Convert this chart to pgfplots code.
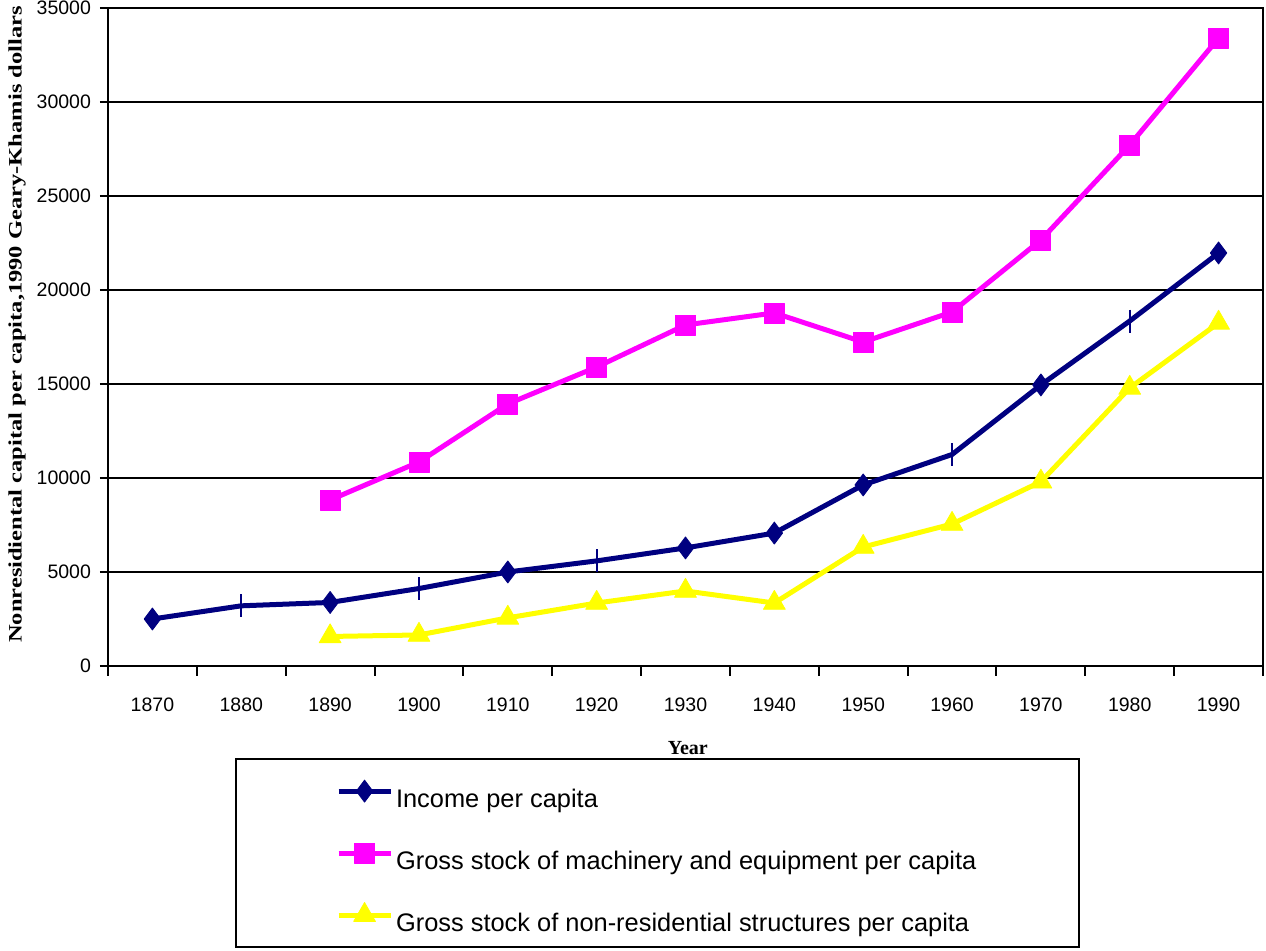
\documentclass[border=0pt]{standalone}
\usepackage{fontspec}
\setmainfont{Liberation Sans}
\newfontfamily\serifb{Liberation Serif}
\usepackage{pgfplots}
\pgfplotsset{compat=1.18}
\definecolor{navyc}{RGB}{0,0,128}
\definecolor{magc}{RGB}{255,0,255}
\definecolor{yelc}{RGB}{255,255,0}
\begin{document}
\begin{tikzpicture}
\path[use as bounding box] (0,0) rectangle (633pt,475.5pt);
\begin{axis}[
  at={(54pt,142.5pt)}, anchor=south west,
  width=577.5pt, height=329pt, scale only axis,
  xmin=1865, xmax=1995, ymin=0, ymax=35000,
  xtick={1870,1880,...,1990},
  minor xtick={1865,1875,...,1995},
  ytick={0,5000,...,35000},
  xtick pos=bottom, ytick pos=left,
  tick align=outside,
  major x tick style={draw=none},
  minor tick length=5pt, major tick length=4pt,
  tick style={black, line width=1pt},
  axis line style={line width=1pt},
  ymajorgrids, major grid style={black, line width=1pt},
  /pgf/number format/assume math mode=true,
  /pgf/number format/1000 sep={},
  scaled y ticks=false,
  tick label style={font=\fontsize{9.75}{11}\selectfont},
  xticklabel style={yshift=-8.5pt},
  yticklabel style={xshift=-1pt},
  xlabel={\serifb\bfseries Year},
  xlabel style={at={(rel axis cs:0.502,-0.1246)}, anchor=center, font=\fontsize{10}{12}\selectfont},
  ylabel={\scalebox{1.29}[1]{\serifb\bfseries Nonresidiental capital per capita,1990 Geary-Khamis dollars}},
  ylabel style={at={(rel axis cs:-0.0788,0.519)}, anchor=center, font=\fontsize{9.5}{11}\selectfont},
  legend style={at={(rel axis cs:0.11,-0.14)}, anchor=north west, draw=black, line width=1pt,
    font=\fontsize{12.7}{15}\selectfont, inner xsep=50pt, inner ysep=6pt, row sep=11pt,
    nodes={inner xsep=1.5pt, text height=16pt, text depth=0pt}},
  legend cell align=left,
  legend image code/.code={\draw[mark repeat=2,mark phase=2] plot coordinates {(0pt,0pt) (13pt,0pt) (26pt,0pt)};},
  every axis plot/.append style={line join=round},
]
\addplot[navyc, line width=2.5pt, mark=diamond*, mark size=5.5pt,
  mark options={line width=0.4pt, fill=navyc, solid},
  mark indices={1,3,5,7,8,9,11,13},
  legend image code/.code={\draw[mark=none] (0pt,0pt) -- (26pt,0pt); \draw plot coordinates {(13pt,0pt)};}]
  coordinates {(1870,2500)(1880,3200)(1890,3380)(1900,4120)(1910,5000)(1920,5590)(1930,6280)(1940,7070)(1950,9630)(1960,11250)(1970,14950)(1980,18350)(1990,21970)};
\addlegendentry{Income per capita}
\addplot[navyc, line width=1pt, only marks, mark=|, mark size=5.75pt,
  mark indices={2,4,6,10,12}, forget plot]
  coordinates {(1870,2500)(1880,3200)(1890,3380)(1900,4120)(1910,5000)(1920,5590)(1930,6280)(1940,7070)(1950,9630)(1960,11250)(1970,14950)(1980,18350)(1990,21970)};
\addplot[magc, line width=2.5pt, mark=square*, mark size=5pt,
  mark options={line width=0.4pt, fill=magc, solid}]
  coordinates {(1890,8830)(1900,10850)(1910,13940)(1920,15900)(1930,18140)(1940,18780)(1950,17230)(1960,18830)(1970,22660)(1980,27710)(1990,33400)};
\addlegendentry{Gross stock of machinery and equipment per capita}
\addplot[yelc, line width=2.5pt, mark=triangle*, mark size=6.3pt,
  mark options={line width=0.4pt, fill=yelc, solid}]
  coordinates {(1890,1570)(1900,1650)(1910,2560)(1920,3350)(1930,3990)(1940,3350)(1950,6330)(1960,7550)(1970,9800)(1980,14790)(1990,18250)};
\addlegendentry{Gross stock of non-residential structures per capita}
\end{axis}
\end{tikzpicture}
\end{document}
